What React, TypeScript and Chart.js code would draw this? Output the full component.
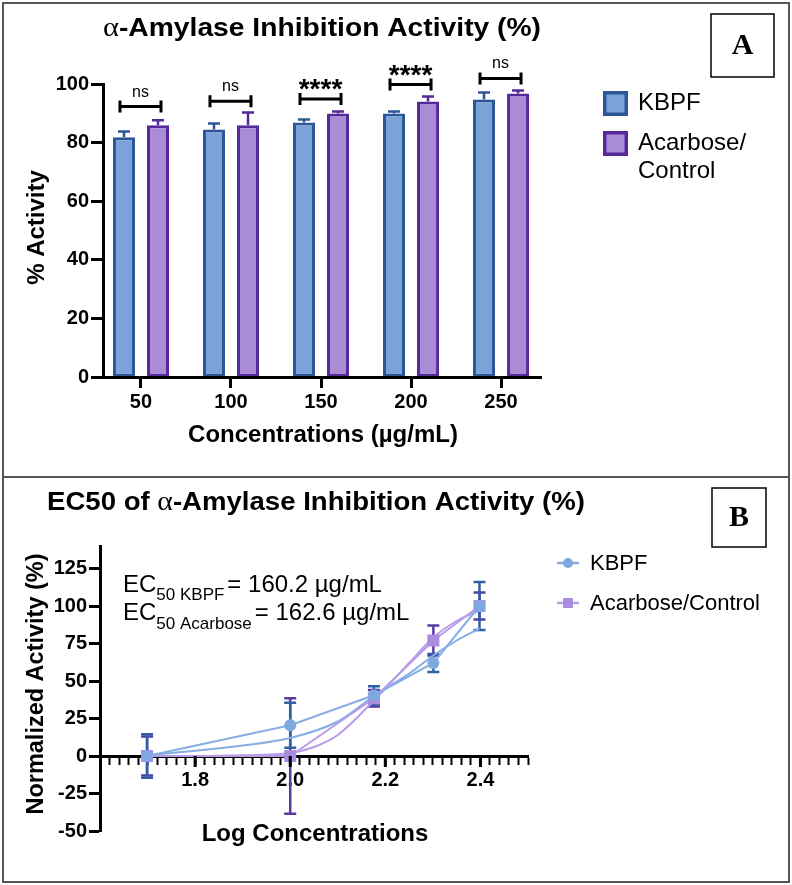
import React, { useEffect, useRef } from "react";
import { Chart, registerables } from "chart.js";

Chart.register(...registerables);
Chart.defaults.font.family = "'Liberation Sans', Arial, sans-serif";
Chart.defaults.color = "#000";

// ---------- Panel A data ----------
const concentrations = ["50", "100", "150", "200", "250"];
const catPos = [1, 2, 3, 4, 5];
const seriesNames = ["KBPF", "Acarbose/Control"];
const kbpfActivity = [81.8, 84.5, 86.9, 89.9, 94.7];
const kbpfActivityErr = [2.0, 2.0, 1.0, 0.7, 2.4];
const acarboseActivity = [85.9, 85.9, 89.9, 94.0, 96.8];
const acarboseActivityErr = [1.7, 4.4, 0.7, 1.7, 1.0];
const sigLabels = ["ns", "ns", "****", "****", "ns"];
const sigLevels = [92.3, 94.1, 94.9, 99.8, 101.9];
const yTicksA = [0, 20, 40, 60, 80, 100];

// ---------- Panel B data ----------
const logConc = [1.699, 2.0, 2.176, 2.301, 2.398];
const kbpfNorm = [0, 20.5, 40.5, 62, 100];
const kbpfNormErr = [14.5, 15, 6, 6, 16];
const acarboseNorm = [0, 0, 38.5, 77, 100];
const acarboseNormErr = [13, 38.5, 5.5, 10, 9];
const kbpfFitX = [1.699, 1.8, 1.9, 2.0, 2.1, 2.176, 2.25, 2.301, 2.35, 2.398];
const kbpfFitY = [0.5, 3.5, 7, 12, 23, 40, 55, 67, 77, 85];
const acarboseFitX = [1.699, 1.8, 1.9, 2.0, 2.05, 2.1, 2.176, 2.25, 2.301, 2.35, 2.398];
const acarboseFitY = [0, 0, 0.5, 2, 6, 14, 37, 62, 79, 90, 97];
const yTicksB = [-50, -25, 0, 25, 50, 75, 100, 125];
const xMajorTicksB = [1.8, 2.0, 2.2, 2.4];
const ec50Kbpf = "160.2";
const ec50Acarbose = "162.6";

const COL = {
  kbpfFill: "#7BA3D9",
  kbpfBorder: "#2C5697",
  acaFill: "#A98BD6",
  acaBorder: "#55299A",
  kbpfLine: "#86AEE5",
  kbpfPoint: "#7EA8E0",
  kbpfErr: "#2F5FA6",
  acaLine: "#B79CE8",
  acaPoint: "#AA8DE0",
  acaErr: "#5A3AA2",
};

const SANS = "'Liberation Sans', Arial, sans-serif";
const SERIF = "'Liberation Serif', 'Times New Roman', serif";

type Part = { text: string; font: string; dy?: number; dx?: number };

function drawParts(
  ctx: CanvasRenderingContext2D,
  parts: Part[],
  x: number,
  y: number,
  opts: { align?: "left" | "center"; width?: number } = {}
) {
  ctx.save();
  ctx.textBaseline = "alphabetic";
  ctx.textAlign = "left";
  ctx.fillStyle = "#000";
  const ws = parts.map((p) => {
    ctx.font = p.font;
    return ctx.measureText(p.text).width + (p.dx || 0);
  });
  const total = ws.reduce((a, b) => a + b, 0);
  const sx = opts.width ? opts.width / total : 1;
  ctx.translate(x, y);
  ctx.scale(sx, 1);
  let cx = opts.align === "center" ? -total / 2 : 0;
  parts.forEach((p, i) => {
    ctx.font = p.font;
    ctx.fillText(p.text, cx + (p.dx || 0), p.dy || 0);
    cx += ws[i];
  });
  ctx.restore();
}

function drawRotated(ctx: CanvasRenderingContext2D, text: string, font: string, x: number, y: number) {
  ctx.save();
  ctx.translate(x, y);
  ctx.rotate(-Math.PI / 2);
  ctx.font = font;
  ctx.fillStyle = "#000";
  ctx.textAlign = "center";
  ctx.textBaseline = "middle";
  ctx.fillText(text, 0, 0);
  ctx.restore();
}

function drawLetterBox(ctx: CanvasRenderingContext2D, letter: string, x: number, y: number, w: number, h: number) {
  ctx.save();
  ctx.strokeStyle = "#000";
  ctx.lineWidth = 1.5;
  ctx.strokeRect(x, y, w, h);
  ctx.font = `bold 30px ${SERIF}`;
  ctx.fillStyle = "#000";
  ctx.textAlign = "center";
  ctx.textBaseline = "middle";
  ctx.fillText(letter, x + w / 2, y + h / 2 + 1);
  ctx.restore();
}

// ---------- Panel A plugin ----------
const panelAPlugin = {
  id: "panelAExtras",
  afterDatasetsDraw(chart: any) {
    const ctx = chart.ctx as CanvasRenderingContext2D;
    const y = chart.scales.y;
    const sets = [
      { vals: kbpfActivity, err: kbpfActivityErr, color: COL.kbpfBorder },
      { vals: acarboseActivity, err: acarboseActivityErr, color: COL.acaBorder },
    ];
    sets.forEach((s, d) => {
      const meta = chart.getDatasetMeta(d);
      meta.data.forEach((el: any, i: number) => {
        const yTop = y.getPixelForValue(s.vals[i]);
        const yErr = y.getPixelForValue(s.vals[i] + s.err[i]);
        ctx.save();
        ctx.strokeStyle = s.color;
        ctx.lineWidth = 2.5;
        ctx.beginPath();
        ctx.moveTo(el.x, yTop);
        ctx.lineTo(el.x, yErr);
        ctx.moveTo(el.x - 6, yErr);
        ctx.lineTo(el.x + 6, yErr);
        ctx.stroke();
        ctx.restore();
      });
    });
  },
  afterDraw(chart: any) {
    const ctx = chart.ctx as CanvasRenderingContext2D;
    const y = chart.scales.y;
    const area = chart.chartArea;
    const m0 = chart.getDatasetMeta(0);
    const m1 = chart.getDatasetMeta(1);

    // significance brackets
    sigLabels.forEach((lab, i) => {
      const xa = m0.data[i].x - 4;
      const xb = m1.data[i].x + 3;
      const yb = y.getPixelForValue(sigLevels[i]);
      ctx.save();
      ctx.strokeStyle = "#000";
      ctx.lineWidth = 3;
      ctx.beginPath();
      ctx.moveTo(xa, yb);
      ctx.lineTo(xb, yb);
      ctx.moveTo(xa, yb - 6);
      ctx.lineTo(xa, yb + 6);
      ctx.moveTo(xb, yb - 6);
      ctx.lineTo(xb, yb + 6);
      ctx.stroke();
      ctx.fillStyle = "#000";
      ctx.textAlign = "center";
      ctx.textBaseline = "alphabetic";
      if (lab === "ns") {
        ctx.font = `16px ${SANS}`;
        ctx.fillText(lab, (xa + xb) / 2, yb - 10);
      } else {
        ctx.font = `bold 28px ${SANS}`;
        ctx.fillText(lab, (xa + xb) / 2, yb - 1);
      }
      ctx.restore();
    });

    // title
    drawParts(
      ctx,
      [
        { text: "\u03b1", font: `28px ${SERIF}` },
        { text: "-Amylase Inhibition Activity (%)", font: `bold 26px ${SANS}` },
      ],
      (area.left + area.right) / 2,
      36,
      { align: "center", width: 438 }
    );

    // axis titles
    drawRotated(ctx, "% Activity", `bold 24px ${SANS}`, 37, (area.top + area.bottom) / 2 - 3);
    ctx.save();
    ctx.font = `bold 24px ${SANS}`;
    ctx.fillStyle = "#000";
    ctx.textAlign = "center";
    ctx.textBaseline = "middle";
    ctx.fillText("Concentrations (\u00b5g/mL)", (area.left + area.right) / 2 + 1, 435);
    ctx.restore();

    // legend
    const items = [
      { fill: COL.kbpfFill, border: COL.kbpfBorder, y: 91, lines: ["KBPF"] },
      { fill: COL.acaFill, border: COL.acaBorder, y: 131, lines: ["Acarbose/", "Control"] },
    ];
    items.forEach((it) => {
      ctx.save();
      ctx.fillStyle = it.fill;
      ctx.fillRect(603, it.y, 25, 25);
      ctx.strokeStyle = it.border;
      ctx.lineWidth = 3.5;
      ctx.strokeRect(604.75, it.y + 1.75, 21.5, 21.5);
      ctx.fillStyle = "#000";
      ctx.font = `24px ${SANS}`;
      ctx.textAlign = "left";
      ctx.textBaseline = "middle";
      it.lines.forEach((t, k) => ctx.fillText(t, 638, it.y + 12 + k * 28));
      ctx.restore();
    });

    drawLetterBox(ctx, "A", 711, 14, 63, 63);
  },
};

// ---------- Panel B plugin ----------
const panelBPlugin = {
  id: "panelBExtras",
  beforeDatasetsDraw(chart: any) {
    const ctx = chart.ctx as CanvasRenderingContext2D;
    const x = chart.scales.x;
    const y = chart.scales.y;
    const sets = [
      { vals: acarboseNorm, err: acarboseNormErr, color: COL.acaErr },
      { vals: kbpfNorm, err: kbpfNormErr, color: COL.kbpfErr },
    ];
    sets.forEach((s) => {
      logConc.forEach((lc, i) => {
        const px = x.getPixelForValue(lc);
        const y1 = y.getPixelForValue(s.vals[i] + s.err[i]);
        const y2 = y.getPixelForValue(s.vals[i] - s.err[i]);
        ctx.save();
        ctx.strokeStyle = s.color;
        ctx.lineWidth = 2.5;
        ctx.beginPath();
        ctx.moveTo(px, y1);
        ctx.lineTo(px, y2);
        ctx.moveTo(px - 6, y1);
        ctx.lineTo(px + 6, y1);
        ctx.moveTo(px - 6, y2);
        ctx.lineTo(px + 6, y2);
        ctx.stroke();
        ctx.restore();
      });
    });
  },
  afterDraw(chart: any) {
    const ctx = chart.ctx as CanvasRenderingContext2D;
    const x = chart.scales.x;
    const y = chart.scales.y;
    const area = chart.chartArea;
    const y0 = y.getPixelForValue(0);

    // longer major ticks
    ctx.save();
    ctx.strokeStyle = "#000";
    ctx.lineWidth = 3;
    ctx.beginPath();
    xMajorTicksB.forEach((v) => {
      const px = x.getPixelForValue(v);
      ctx.moveTo(px, y0);
      ctx.lineTo(px, y0 + 11);
    });
    ctx.stroke();
    ctx.restore();

    // title
    drawParts(
      ctx,
      [
        { text: "EC50 of ", font: `bold 26px ${SANS}` },
        { text: "\u03b1", font: `28px ${SERIF}` },
        { text: "-Amylase Inhibition Activity (%)", font: `bold 26px ${SANS}` },
      ],
      316,
      33,
      { align: "center", width: 538 }
    );

    // axis titles
    drawRotated(ctx, "Normalized Activity (%)", `bold 23.5px ${SANS}`, 37, 207);
    ctx.save();
    ctx.font = `bold 24px ${SANS}`;
    ctx.fillStyle = "#000";
    ctx.textAlign = "center";
    ctx.textBaseline = "middle";
    ctx.fillText("Log Concentrations", 315, 357);
    ctx.restore();

    // EC50 annotation
    drawParts(
      ctx,
      [
        { text: "EC", font: `24px ${SANS}` },
        { text: "50 KBPF", font: `17px ${SANS}`, dy: 8 },
        { text: `= ${ec50Kbpf} \u00b5g/mL`, font: `24px ${SANS}`, dx: 3 },
      ],
      area.left + 23,
      115
    );
    drawParts(
      ctx,
      [
        { text: "EC", font: `24px ${SANS}` },
        { text: "50 Acarbose", font: `17px ${SANS}`, dy: 9 },
        { text: `= ${ec50Acarbose} \u00b5g/mL`, font: `24px ${SANS}`, dx: 3 },
      ],
      area.left + 23,
      143
    );

    // legend
    const leg = [
      { line: COL.kbpfLine, point: COL.kbpfPoint, shape: "circle", y: 86, label: seriesNames[0] },
      { line: COL.acaLine, point: COL.acaPoint, shape: "rect", y: 126, label: seriesNames[1] },
    ];
    leg.forEach((it) => {
      ctx.save();
      ctx.strokeStyle = it.line;
      ctx.lineWidth = 2.5;
      ctx.beginPath();
      ctx.moveTo(557, it.y);
      ctx.lineTo(579, it.y);
      ctx.stroke();
      ctx.fillStyle = it.point;
      if (it.shape === "circle") {
        ctx.beginPath();
        ctx.arc(568, it.y, 5, 0, Math.PI * 2);
        ctx.fill();
      } else {
        ctx.fillRect(563, it.y - 5, 10, 10);
      }
      ctx.fillStyle = "#000";
      ctx.font = `22px ${SANS}`;
      ctx.textAlign = "left";
      ctx.textBaseline = "middle";
      ctx.fillText(it.label, 590, it.y + 1);
      ctx.restore();
    });

    drawLetterBox(ctx, "B", 712, 11, 54, 59);
  },
};

function makeConfigA(): any {
  return {
    type: "bar",
    data: {
      datasets: [
        {
          label: seriesNames[0],
          data: catPos.map((x, i) => ({ x, y: kbpfActivity[i] })),
          backgroundColor: COL.kbpfFill,
          borderColor: COL.kbpfBorder,
          borderWidth: 3,
          borderSkipped: false,
          categoryPercentage: 0.756,
          barPercentage: 0.647,
        },
        {
          label: seriesNames[1],
          data: catPos.map((x, i) => ({ x, y: acarboseActivity[i] })),
          backgroundColor: COL.acaFill,
          borderColor: COL.acaBorder,
          borderWidth: 3,
          borderSkipped: false,
          categoryPercentage: 0.756,
          barPercentage: 0.647,
        },
      ],
    },
    options: {
      responsive: false,
      animation: false,
      devicePixelRatio: 1,
      layout: { padding: { top: 84, right: 251, bottom: 0, left: 0 } },
      plugins: { legend: { display: false }, tooltip: { enabled: false }, title: { display: false } },
      scales: {
        x: {
          type: "linear",
          offset: false,
          min: 0.578,
          max: 5.444,
          afterBuildTicks: (s: any) => {
            s.ticks = catPos.map((v) => ({ value: v }));
          },
          afterFit: (s: any) => {
            s.height = 100;
          },
          ticks: {
            callback: (_v: any, i: number) => concentrations[i],
            font: { size: 20, weight: "bold" },
            color: "#000",
            padding: 2,
            autoSkip: false,
            maxRotation: 0,
          },
          grid: { offset: false, drawOnChartArea: false, tickLength: 11, tickWidth: 3, tickColor: "#000" },
          border: { color: "#000", width: 3, z: 1 },
        },
        y: {
          min: 0,
          max: 100,
          afterBuildTicks: (s: any) => {
            s.ticks = yTicksA.map((v) => ({ value: v }));
          },
          afterFit: (s: any) => {
            s.width = 103;
          },
          ticks: { font: { size: 20, weight: "bold" }, color: "#000", padding: 2 },
          grid: { drawOnChartArea: false, tickLength: 12, tickWidth: 3, tickColor: "#000" },
          border: { color: "#000", width: 3, z: 1 },
        },
      },
    },
    plugins: [panelAPlugin],
  };
}

function makeConfigB(): any {
  return {
    type: "scatter",
    data: {
      datasets: [
        {
          label: seriesNames[0],
          data: logConc.map((x, i) => ({ x, y: kbpfNorm[i] })),
          showLine: true,
          tension: 0,
          borderColor: COL.kbpfLine,
          borderWidth: 2,
          pointStyle: "circle",
          pointRadius: 6,
          pointBackgroundColor: COL.kbpfPoint,
          pointBorderColor: COL.kbpfPoint,
          pointBorderWidth: 0,
        },
        {
          label: seriesNames[1],
          data: logConc.map((x, i) => ({ x, y: acarboseNorm[i] })),
          showLine: true,
          tension: 0,
          borderColor: COL.acaLine,
          borderWidth: 2,
          pointStyle: "rect",
          pointRadius: 8.5,
          pointBackgroundColor: COL.acaPoint,
          pointBorderColor: COL.acaPoint,
          pointBorderWidth: 0,
        },
        {
          label: seriesNames[0] + " fit",
          data: kbpfFitX.map((x, i) => ({ x, y: kbpfFitY[i] })),
          showLine: true,
          cubicInterpolationMode: "monotone",
          borderColor: COL.kbpfLine,
          borderWidth: 2,
          pointRadius: 0,
        },
        {
          label: seriesNames[1] + " fit",
          data: acarboseFitX.map((x, i) => ({ x, y: acarboseFitY[i] })),
          showLine: true,
          cubicInterpolationMode: "monotone",
          borderColor: COL.acaLine,
          borderWidth: 2,
          pointRadius: 0,
        },
      ],
    },
    options: {
      responsive: false,
      animation: false,
      devicePixelRatio: 1,
      layout: { padding: { top: 69, right: 264, bottom: 54, left: 0 } },
      plugins: { legend: { display: false }, tooltip: { enabled: false }, title: { display: false } },
      scales: {
        x: {
          type: "linear",
          position: { y: 0 },
          min: 1.6,
          max: 2.5,
          ticks: {
            stepSize: 0.02,
            maxTicksLimit: 100,
            autoSkip: false,
            maxRotation: 0,
            includeBounds: false,
            callback: (v: any) => {
              const m = xMajorTicksB.find((t) => Math.abs(t - Number(v)) < 1e-6);
              return m !== undefined ? m.toFixed(1) : "";
            },
            font: { size: 20, weight: "bold" },
            color: "#000",
            padding: 5,
          },
          grid: { drawOnChartArea: false, tickLength: 7, tickWidth: 2, tickColor: "#000" },
          border: { color: "#000", width: 3 },
        },
        y: {
          type: "linear",
          min: -50,
          max: 140,
          afterBuildTicks: (s: any) => {
            s.ticks = yTicksB.map((v) => ({ value: v }));
          },
          afterFit: (s: any) => {
            s.width = 100;
          },
          ticks: { font: { size: 20, weight: "bold" }, color: "#000", padding: 2 },
          grid: { drawOnChartArea: false, tickLength: 11, tickWidth: 3, tickColor: "#000" },
          border: { color: "#000", width: 3 },
        },
      },
    },
    plugins: [panelBPlugin],
  };
}

function ChartCanvas({ make, top, height }: { make: () => any; top: number; height: number }) {
  const ref = useRef<HTMLCanvasElement>(null);
  useEffect(() => {
    const chart = new Chart(ref.current as HTMLCanvasElement, make());
    return () => chart.destroy();
  }, []);
  return (
    <canvas
      ref={ref}
      width={792}
      height={height}
      style={{ position: "absolute", left: 0, top, width: 792, height, display: "block" }}
    />
  );
}

export default function App() {
  return (
    <div style={{ position: "absolute", left: 0, top: 0, width: 792, height: 885, background: "#fff", overflow: "hidden" }}>
      <ChartCanvas make={makeConfigA} top={0} height={477} />
      <ChartCanvas make={makeConfigB} top={477} height={408} />
      <div
        style={{
          position: "absolute",
          left: 2,
          top: 2,
          width: 788,
          height: 881,
          boxSizing: "border-box",
          border: "2px solid #555",
          pointerEvents: "none",
        }}
      />
      <div style={{ position: "absolute", left: 2, top: 476, width: 788, height: 2, background: "#555", pointerEvents: "none" }} />
    </div>
  );
}
